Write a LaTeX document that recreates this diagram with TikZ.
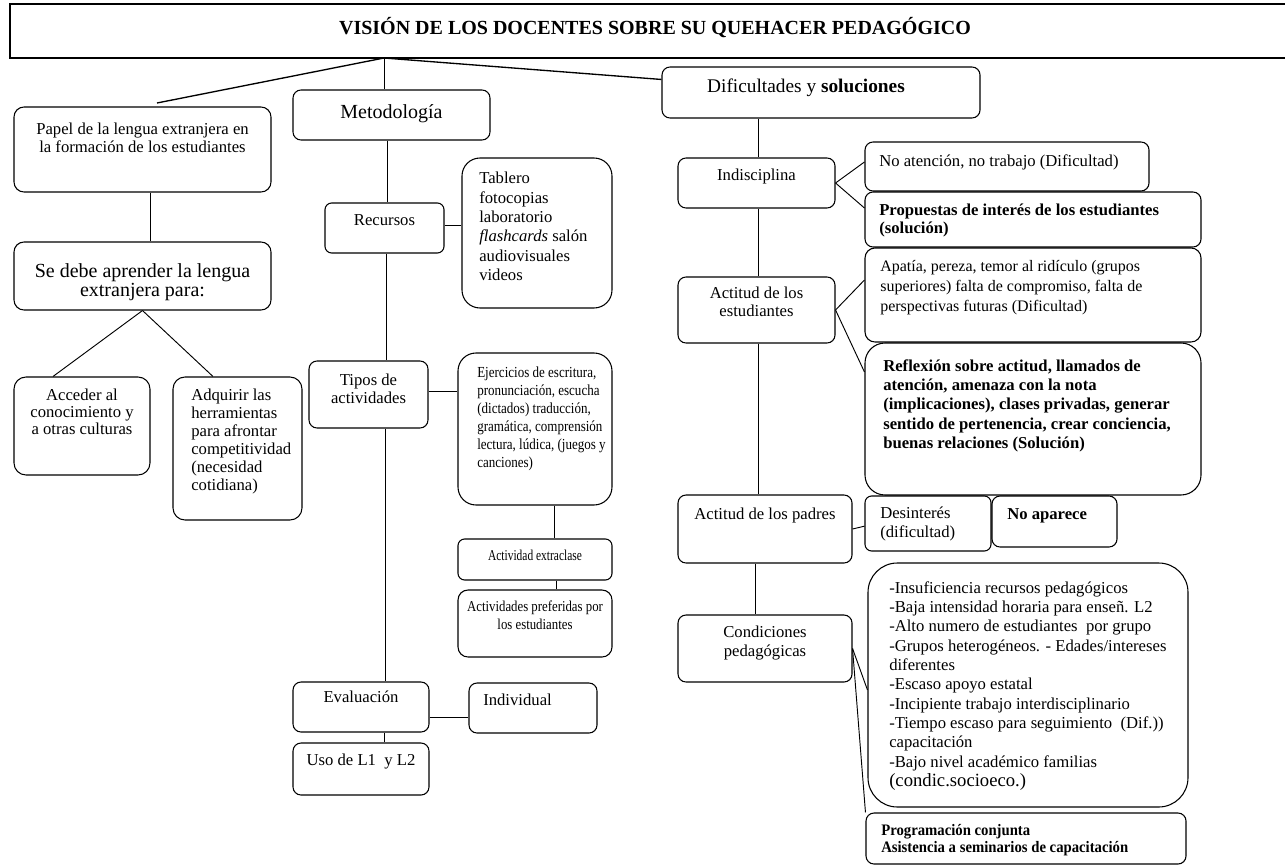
\documentclass[tikz,border=0pt]{standalone}
\usepackage{fontspec}
\setmainfont{Liberation Serif}
\newfontfamily\condfont[FakeStretch=0.85]{Liberation Serif}
\newfontfamily\condfontB[FakeStretch=0.76]{Liberation Serif}
\newfontfamily\condbold[FakeStretch=0.92]{Liberation Serif}
\usetikzlibrary{fit}
\newcommand\mkbox[4]{\node[box, rounded corners=#4, fit={#2 #3}] (#1) {};}
\tikzset{
  box/.style={draw, line width=0.8pt, inner sep=0pt},
  conn/.style={draw, line width=0.7pt},
  thick conn/.style={draw, line width=1pt},
  txt/.style={inner sep=0pt, align=left, font=\fontsize{12.5}{13.5}\selectfont},
  ctxt/.style={inner sep=0pt, align=center, font=\fontsize{12.5}{13.5}\selectfont},
  bigtxt/.style={inner sep=0pt, align=center, font=\fontsize{15}{14.5}\selectfont},
}
\begin{document}
\begin{tikzpicture}[x=0.75pt,y=-0.75pt]
\useasboundingbox (0,0) rectangle (1285,867);
% ---------- boxes ----------
\node[box, fit={(10,4) (1300,58)}] (T) {};
\mkbox{P}{(14,107)}{(271,192)}{7.5pt}
\mkbox{S}{(14,242)}{(271,310)}{7.5pt}
\mkbox{A1}{(14,377)}{(150,475)}{9pt}
\mkbox{A2}{(173,377)}{(302,520)}{9pt}
\mkbox{M}{(293,90)}{(490,140)}{6pt}
\mkbox{R}{(325,203)}{(444,253)}{5pt}
\mkbox{TB}{(462,158)}{(612,308)}{13.5pt}
\mkbox{TI}{(309,361)}{(428,428)}{6pt}
\mkbox{E}{(458,353)}{(612,505)}{13.5pt}
\mkbox{AE}{(458,539)}{(612,580)}{5pt}
\mkbox{AP}{(458,590)}{(612,657)}{7.5pt}
\mkbox{Ev}{(293,682)}{(429,732)}{6pt}
\mkbox{In}{(469,683)}{(597,733)}{6pt}
\mkbox{U}{(293,743)}{(429,795)}{6pt}
\mkbox{D}{(662,67)}{(980,118)}{6pt}
\mkbox{I}{(678,158)}{(835,208)}{6pt}
\mkbox{NA}{(865,142)}{(1149,191)}{6pt}
\mkbox{PR}{(865,192)}{(1201,247)}{6pt}
\mkbox{AT}{(865,248)}{(1201,342)}{7.5pt}
\mkbox{AS}{(678,277)}{(835,343)}{6pt}
\mkbox{RF}{(865,343)}{(1201,495)}{15pt}
\mkbox{PA}{(678,495)}{(852,563)}{6pt}
\mkbox{DS}{(865,496)}{(991,551)}{5pt}
\mkbox{NP}{(992,496)}{(1117,547)}{6pt}
\mkbox{CP}{(678,615)}{(852,682)}{6pt}
\mkbox{LB}{(868,563)}{(1188,807)}{22pt}
\mkbox{PG}{(866,813)}{(1186,864)}{6pt}
% ---------- texts ----------
\node[inner sep=0pt, font=\bfseries\fontsize{15}{17}\selectfont] (tT) at (655,28) {VISIÓN DE LOS DOCENTES SOBRE SU QUEHACER PEDAGÓGICO};
\node[ctxt, anchor=north, font=\fontsize{12.5}{13}\selectfont] (tP) at (142.5,123) {Papel de la lengua extranjera en\\la formación de los estudiantes};
\node[bigtxt, anchor=north] (tS) at (142.5,263) {Se debe aprender la lengua\\extranjera para:};
\node[ctxt, anchor=north, font=\fontsize{12.5}{12.5}\selectfont] (tA1) at (82,389) {Acceder al\\conocimiento y\\a otras culturas};
\node[txt, anchor=north west] (tA2) at (191,389) {Adquirir las\\herramientas\\para afrontar\\competitividad\\(necesidad\\cotidiana)};
\node[bigtxt, anchor=north] (tM) at (391.5,104) {Metodología};
\node[ctxt, anchor=north] (tR) at (384.5,214) {Recursos};
\node[txt, anchor=north west, font=\fontsize{12.5}{14.5}\selectfont] (tTB) at (479,172) {Tablero\\fotocopias\\laboratorio\\\textit{flashcards} salón\\audiovisuales\\videos};
\node[ctxt, anchor=north] (tTI) at (368.5,374) {Tipos de\\actividades};
\node[txt, anchor=north west, font=\condfont\fontsize{11.5}{13.5}\selectfont] (tE) at (477,367) {Ejercicios de escritura,\\pronunciación, escucha\\(dictados) traducción,\\gramática, comprensión\\lectura, lúdica, (juegos y\\canciones)};
\node[ctxt, anchor=north, font=\condfontB\fontsize{11.3}{13}\selectfont] (tAE) at (535,550) {Actividad extraclase};
\node[ctxt, anchor=north, font=\condfont\fontsize{11.3}{13.5}\selectfont] (tAP) at (535,601) {Actividades preferidas por\\los estudiantes};
\node[ctxt, anchor=north] (tEv) at (361,691) {Evaluación};
\node[txt, anchor=north west] (tIn) at (483,694) {Individual};
\node[ctxt, anchor=north] (tU) at (361,754) {Uso de L1 \ y L2};
\node[ctxt, anchor=north, font=\fontsize{14.5}{15}\selectfont] (tD) at (806,79) {Dificultades y \textbf{soluciones}};
\node[ctxt, anchor=north] (tI) at (756.5,169) {Indisciplina};
\node[txt, anchor=north west] (tNA) at (879,154) {No atención, no trabajo (Dificultad)};
\node[txt, anchor=north west, font=\bfseries\fontsize{12.5}{13.5}\selectfont] (tPR) at (879,204) {Propuestas de interés de los estudiantes\\(solución)};
\node[txt, anchor=north west, font=\fontsize{12}{15}\selectfont] (tAT) at (880,260) {Apatía, pereza, temor al ridículo (grupos\\superiores) falta de compromiso, falta de\\perspectivas futuras (Dificultad)};
\node[ctxt, anchor=north] (tAS) at (756.5,287) {Actitud de los\\estudiantes};
\node[txt, anchor=north west, font=\bfseries\fontsize{12.5}{14.6}\selectfont] (tRF) at (883,359) {Reflexión sobre actitud, llamados de\\atención, amenaza con la nota\\(implicaciones), clases privadas, generar\\sentido de pertenencia, crear conciencia,\\buenas relaciones (Solución)};
\node[ctxt, anchor=north] (tPA) at (765,508) {Actitud de los padres};
\node[txt, anchor=north west, font=\fontsize{12.5}{14.25}\selectfont] (tDS) at (880,507) {Desinterés\\(dificultad)};
\node[txt, anchor=north west, font=\bfseries\fontsize{12.5}{13.5}\selectfont] (tNP) at (1007,508) {No aparece};
\node[ctxt, anchor=north, font=\fontsize{12.5}{14.25}\selectfont] (tCP) at (765,626) {Condiciones\\pedagógicas};
\node[txt, anchor=north west, font=\fontsize{12.5}{14.5}\selectfont] (tLB) at (889,581) {-Insuficiencia recursos pedagógicos\\-Baja intensidad horaria para enseñ. L2\\-Alto numero de estudiantes \ por grupo\\-Grupos heterogéneos. - Edades/intereses\\diferentes\\-Escaso apoyo estatal\\-Incipiente trabajo interdisciplinario\\-Tiempo escaso para seguimiento \ (Dif.))\\capacitación\\-Bajo nivel académico familias\\{\fontsize{14}{14.5}\selectfont (condic.socioeco.)}};
\node[txt, anchor=north west, font=\condbold\bfseries\fontsize{12}{12.75}\selectfont] (tPG) at (881,824) {Programación conjunta\\Asistencia a seminarios de capacitación};
% ---------- connectors ----------
\coordinate (c0) at (384,58);
\coordinate (pend) at (157,103);
\draw[thick conn] (c0) -- (pend);
\draw[conn] (c0) -- (c0 |- M.north);
\draw[thick conn] (c0) -- ([yshift=-9.75pt]D.north west);
\draw[conn] ([xshift=5.6pt]P.south) -- ([xshift=5.6pt]P.south |- S.north);
\draw[conn] (S.south) -- ([xshift=-21.75pt]A1.north);
\draw[conn] (S.south) -- ([xshift=-18.4pt]A2.north);
\draw[conn] ([xshift=2pt]R.north |- M.south) -- ([xshift=2pt]R.north);
\draw[conn] ([yshift=2.2pt]R.east) -- ([yshift=2.2pt]R.east -| TB.west);
\draw[conn] ([xshift=1.5pt]R.south) -- ([xshift=1.5pt]R.south |- TI.north);
\draw[conn] ([yshift=2.6pt]TI.east) -- ([yshift=2.6pt]TI.east -| E.west);
\draw[conn] ([xshift=14.25pt]E.south) -- ([xshift=14.25pt]E.south |- AE.north);
\draw[conn] ([xshift=15.75pt]AE.south) -- ([xshift=15.75pt]AE.south |- AP.north);
\draw[conn] ([xshift=0.5pt]R.south |- TI.south) -- ([xshift=0.5pt]R.south |- Ev.north);
\draw[conn] ([yshift=-7.5pt]Ev.east) -- ([yshift=-7.5pt]Ev.east -| In.west);
\draw[conn] ([xshift=-0.4pt]R.south |- Ev.south) -- ([xshift=-0.4pt]R.south |- U.north);
\draw[conn] ([xshift=1.1pt]I.north |- D.south) -- ([xshift=1.1pt]I.north);
\draw[conn] (I.east) -- ([yshift=3.4pt]NA.west);
\draw[conn] (I.east) -- ([yshift=8.6pt]PR.west);
\draw[conn] ([xshift=1.5pt]I.south) -- ([xshift=1.5pt]I.south |- AS.north);
\draw[conn] (AS.east) -- ([yshift=11.25pt]AT.west);
\draw[conn] (AS.east) -- ([yshift=35.25pt]RF.west);
\draw[conn] ([xshift=1.1pt]AS.south) -- ([xshift=1.1pt]AS.south |- PA.north);
\draw[conn] (PA.east) -- ([yshift=-2pt]DS.west);
\draw[conn] ([xshift=-1.1pt]AS.south |- PA.south) -- ([xshift=-1.1pt]AS.south |- CP.north);
\draw[conn] (CP.east) -- ([yshift=-3.75pt]LB.west);
\draw[conn] (CP.east) -- (PG.north west);
\end{tikzpicture}
\end{document}
